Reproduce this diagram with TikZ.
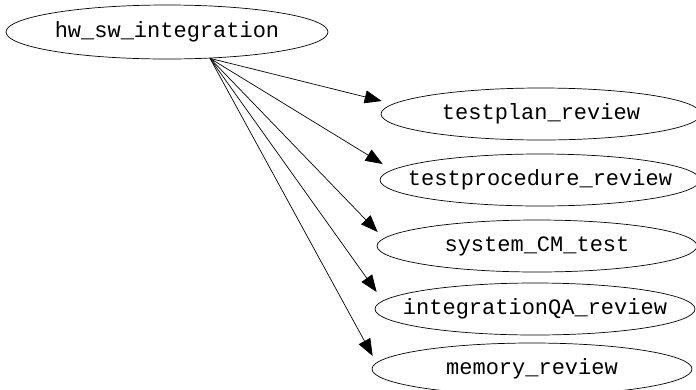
\documentclass[tikz,border=0pt]{standalone}
\usepackage{fontspec}
\setmonofont{Liberation Mono}
\usetikzlibrary{shapes.geometric,arrows.meta,calc}
\tikzset{
  task/.style={draw, ellipse, line width=0.7bp, inner sep=0pt,
    minimum width=320bp, minimum height=52bp,
    font=\fontsize{22bp}{26bp}\ttfamily},
  dep/.style={line width=0.7bp, -{Triangle[length=17bp,width=13bp]}},
}
\newcommand{\lbl}[1]{\makebox[0pt]{#1}}
\begin{document}
\begin{tikzpicture}[x=1bp,y=-1bp]
  \useasboundingbox (0,0) rectangle (696,389);
  % source task
  \node[task, minimum width=322bp, minimum height=54bp] (hw) at (167,32) {\lbl{hw\_sw\_integration}};
  % dependent tasks
  \node[task] (tp)  at (541,114) {\lbl{testplan\_review}};
  \node[task] (tpr) at (540,180) {\lbl{testprocedure\_review}};
  \node[task] (sys) at (537,246) {\lbl{system\_CM\_test}};
  \node[task] (iqa) at (535,309) {\lbl{integrationQA\_review}};
  \node[task] (mem) at (532,369) {\lbl{memory\_review}};
  % all edges leave from one point on the lower border
  \coordinate (src) at ($(hw.south)+(43,-1)$);
  \draw[dep] (src) -- ($(tp.west)+(1,-13)$);
  \draw[dep] (src) -- ($(tpr.west)+(3,-16)$);
  \draw[dep] (src) -- ($(sys.west)+(1,-14)$);
  \draw[dep] (src) -- ($(iqa.west)+(2,-17)$);
  \draw[dep] (src) -- ($(mem.west)+(1,-13)$);
\end{tikzpicture}
\end{document}
